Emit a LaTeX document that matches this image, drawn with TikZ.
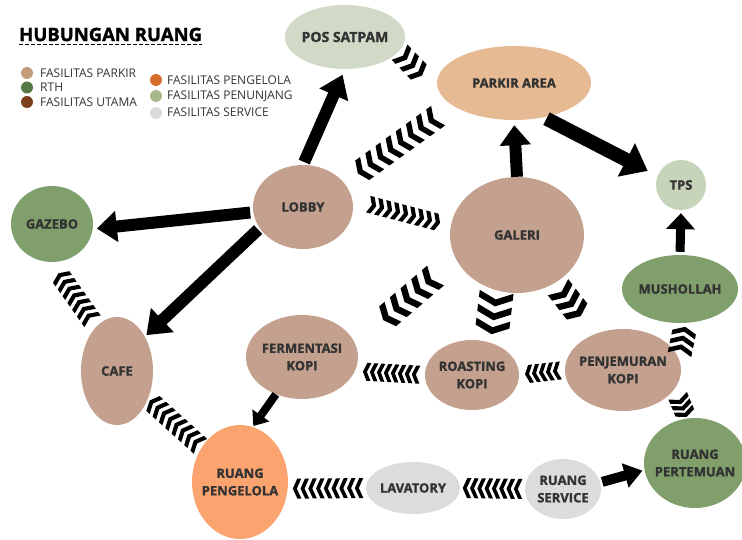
\documentclass[tikz,border=0pt]{standalone}
\usepackage{fontspec}
\setmainfont{Open Sans}[BoldFeatures={FakeBold=1.4}]
\usetikzlibrary{shapes.geometric,arrows.meta,decorations.markings}
\definecolor{cTan}{HTML}{C3A18E}
\definecolor{cPeach}{HTML}{E6BA92}
\definecolor{cLight}{HTML}{D0DAC6}
\definecolor{cLightB}{HTML}{C6D4BA}
\definecolor{cGreen}{HTML}{809F6B}
\definecolor{cOrange}{HTML}{FBA470}
\definecolor{cGrey}{HTML}{DCDCDC}
\definecolor{txt}{HTML}{333333}
\definecolor{dParkir}{HTML}{C49C79}
\definecolor{dRTH}{HTML}{557844}
\definecolor{dUtama}{HTML}{7B3F1D}
\definecolor{dPengelola}{HTML}{D56C2C}
\definecolor{dPenunjang}{HTML}{A9B78D}
\definecolor{dService}{HTML}{DADADA}
\tikzset{
  room/.style={ellipse, draw=none, inner sep=0pt},
  every label/.style={font=\bfseries\fontsize{13}{17.5}\selectfont, text=txt, align=center},
  bigarrow/.style n args={3}{draw=black, line width=#1, -{Triangle[width=#2,length=#3]}},
  chevs/.style n args={5}{decoration={markings, mark=between positions #1 and #2 step #3 with {
      \fill[black] ({-0.45*#4},{#4}) -- (0pt,0pt) -- ({-0.45*#4},{-#4}) -- ({-0.45*#4+#5},{-#4}) -- (#5,0pt) -- ({-0.45*#4+#5},{#4}) -- cycle;}},
    postaction={decorate}},
  dot/.style={circle, inner sep=0pt, minimum size=12pt},
  legtext/.style={anchor=west, inner sep=0pt, font=\fontsize{12}{14}\selectfont, text=txt}
}
\begin{document}
\begin{tikzpicture}[x=1pt,y=-1pt]
\useasboundingbox (0,0) rectangle (742,540);
% title and legend
\node[anchor=west, inner sep=0pt, font=\bfseries\fontsize{18.5}{21}\selectfont, text=black] (title) at (19,34.5) {HUBUNGAN RUANG};
\draw[line width=1.8pt, dash pattern=on 4pt off 2pt] ([yshift=-3pt]title.south west) -- ([yshift=-3pt]title.south east);
\node[dot, fill=dParkir] (d1) at (27,73) {};
\node[dot, fill=dRTH] (d2) at (27,87.5) {};
\node[dot, fill=dUtama] (d3) at (27,102) {};
\node[dot, fill=dPengelola] (d4) at (156,80) {};
\node[dot, fill=dPenunjang] (d5) at (156,96) {};
\node[dot, fill=dService] (d6) at (156,113) {};
\node[legtext] (t1) at (40,73) {FASILITAS PARKIR};
\node[legtext] (t2) at (40,87.5) {RTH};
\node[legtext] (t3) at (40,102) {FASILITAS UTAMA};
\node[legtext] (t4) at (167,80) {FASILITAS PENGELOLA};
\node[legtext] (t5) at (167,96) {FASILITAS PENUNJANG};
\node[legtext] (t6) at (167,112) {FASILITAS SERVICE};
% rooms
\node[room, fill=cLight, minimum width=120pt, minimum height=64pt, label={[font=\bfseries\fontsize{14}{17}\selectfont]center:POS SATPAM}] (pos) at (345,37) {};
\node[room, fill=cPeach, minimum width=154pt, minimum height=74pt, label=center:PARKIR AREA] (parkir) at (514,83) {};
\node[room, fill=cLightB, minimum width=50pt, minimum height=50pt, label=center:TPS] (tps) at (681,185) {};
\node[room, fill=cTan, minimum width=100pt, minimum height=84pt, label=center:LOBBY] (lobby) at (303,207) {};
\node[room, fill=cTan, minimum width=134pt, minimum height=116pt, label=center:GALERI] (galeri) at (517,235) {};
\node[room, fill=cGreen, minimum width=82pt, minimum height=76pt, label=center:GAZEBO] (gazebo) at (52,224) {};
\node[room, fill=cGreen, minimum width=116pt, minimum height=68pt, label=center:MUSHOLLAH] (mushollah) at (680,289) {};
\node[room, fill=cTan, minimum width=72pt, minimum height=108pt, label=center:CAFE] (cafe) at (117,371) {};
\node[room, fill=cTan, minimum width=112pt, minimum height=84pt, label={center:FERMENTASI\\KOPI}] (ferm) at (302,357) {};
\node[room, fill=cTan, minimum width=94pt, minimum height=70pt, label={center:ROASTING\\KOPI}] (roast) at (472,375) {};
\node[room, fill=cTan, minimum width=116pt, minimum height=82pt, label={center:PENJEMURAN\\KOPI}] (penj) at (623,370) {};
\node[room, fill=cOrange, minimum width=96pt, minimum height=114pt, label={center:RUANG\\PENGELOLA}] (peng) at (240,482) {};
\node[room, fill=cGrey, minimum width=94pt, minimum height=52pt, label=center:LAVATORY] (lav) at (413,488) {};
\node[room, fill=cGrey, minimum width=76pt, minimum height=60pt, label={center:RUANG\\SERVICE}] (serv) at (563,489) {};
\node[room, fill=cGreen, minimum width=102pt, minimum height=90pt, label={center:RUANG\\PERTEMUAN}] (pert) at (695,463) {};
% arrows
\draw[bigarrow={12pt}{30pt}{20pt}, shorten <=3pt, shorten >=4pt] (lobby.186) -- (gazebo.-7);
\draw[bigarrow={12pt}{32pt}{22pt}, shorten <=2pt, shorten >=2pt] (lobby.206) -- (cafe.51);
\draw[bigarrow={12pt}{30pt}{22pt}, shorten <=3pt, shorten >=6pt] (lobby.north) -- (pos.south);
\draw[bigarrow={12pt}{30pt}{20pt}, shorten >=5pt] (galeri.north) -- (parkir.south);
\draw[bigarrow={14pt}{36pt}{24pt}, shorten <=3pt, shorten >=11pt] (parkir.-49) -- (tps.159);
\draw[bigarrow={9pt}{28pt}{16pt}, shorten <=3pt, shorten >=3pt] (mushollah.north) -- (tps.south);
\draw[bigarrow={8pt}{20pt}{13pt}, shorten >=1pt] (ferm.235) -- (peng.77);
\draw[bigarrow={10pt}{24pt}{18pt}, shorten <=2pt, shorten >=2pt] (serv.10) -- (pert.188);
% chevron connectors
\path[chevs={6pt}{30pt}{11pt}{11pt}{5.5pt}] (pos.-15) -- (parkir.189);
\path[chevs={23pt}{111pt}{12.5pt}{12pt}{6pt}] (parkir.200) -- (lobby.30);
\path[chevs={20pt}{87pt}{8.25pt}{8.5pt}{4.5pt}] (lobby.8) -- (galeri.172);
\path[chevs={32pt}{89pt}{14pt}{13pt}{7pt}] (galeri.201) -- (ferm.14);
\path[chevs={9pt}{38pt}{14pt}{17pt}{7pt}] (galeri.250) -- (roast.60);
\path[chevs={11pt}{36pt}{12pt}{13pt}{7pt}] (galeri) -- (penj);
\path[chevs={9pt}{59pt}{7pt}{9pt}{4pt}] (roast.west) -- (ferm.-15);
\path[chevs={8pt}{37pt}{7pt}{9pt}{4pt}] (penj.west) -- (roast.east);
\path[chevs={7pt}{70pt}{7.75pt}{10pt}{4pt}] (lav.west) -- (peng.-8);
\path[chevs={7pt}{59pt}{7.3pt}{10pt}{4pt}] (serv.west) -- (lav.east);
\path[chevs={6pt}{67pt}{8.5pt}{10pt}{4.5pt}] (peng) -- (cafe);
\path[chevs={11pt}{62pt}{8.3pt}{10pt}{4.5pt}] (cafe.115) -- (gazebo.268);
\path[chevs={9pt}{28pt}{9pt}{12pt}{5pt}] (penj.12) -- (mushollah.-80);
\path[chevs={12pt}{27pt}{7pt}{10pt}{4.5pt}] (penj.-20) -- (pert.100);
\end{tikzpicture}
\end{document}
